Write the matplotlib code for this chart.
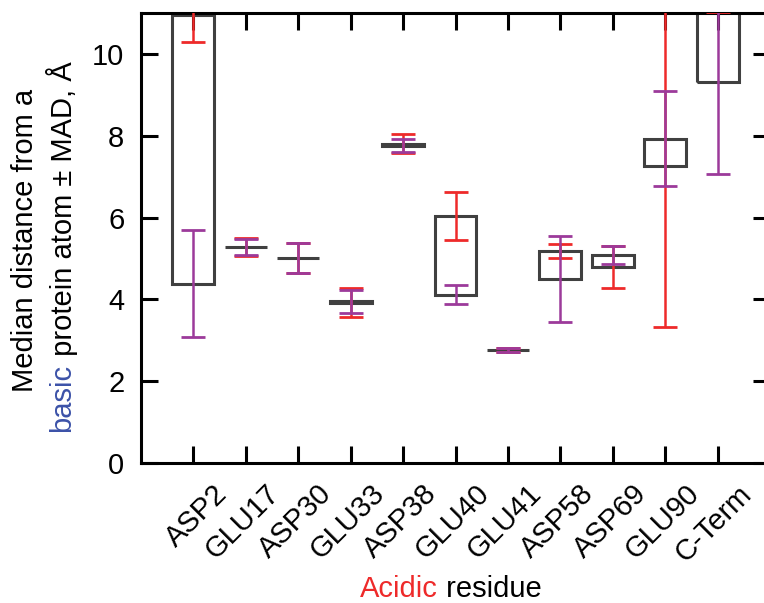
import matplotlib
matplotlib.use('Agg')
import matplotlib.pyplot as plt
import matplotlib.transforms as mtransforms
import numpy as np

plt.rcParams['font.family'] = ['Liberation Sans', 'DejaVu Sans']

residues = ['ASP2', 'GLU17', 'ASP30', 'GLU33', 'ASP38', 'GLU40',
            'GLU41', 'ASP58', 'ASP69', 'GLU90', 'C-Term']
# acidic-side medians / MAD (red) and basic-side medians / MAD (purple)
red_med = [10.94, 5.28, 5.01, 3.92, 7.80, 6.04, 2.76, 5.18, 4.79, 7.27, 11.5]
red_mad = [0.66, 0.21, 0.37, 0.36, 0.23, 0.59, 0.04, 0.18, 0.51, 3.94, 0.48]
pur_med = [4.38, 5.28, 5.01, 3.95, 7.75, 4.11, 2.76, 4.50, 5.08, 7.93, 9.32]
pur_mad = [1.31, 0.19, 0.37, 0.28, 0.16, 0.23, 0.04, 1.05, 0.22, 1.17, 2.25]
yticks = [0, 2, 4, 6, 8, 10]

RED = '#EE2A2A'
PURPLE = '#9C3A9A'
BLUE = '#3C52A8'
BOX = '#404040'

x = np.arange(len(residues))
lo = np.minimum(red_med, pur_med)
hi = np.maximum(red_med, pur_med)

fig = plt.figure(figsize=(7.64, 6.03), dpi=100)
ax = fig.add_axes([141 / 764, 1 - 463 / 603, 629 / 764, 450 / 603])

ax.bar(x, hi - lo, bottom=lo, width=0.8, fill=False, edgecolor=BOX,
       linewidth=2.2, zorder=2)
ax.errorbar(x, red_med, yerr=red_mad, fmt='none', ecolor=RED,
            elinewidth=1.8, capsize=8.5, capthick=2, zorder=3)
ax.errorbar(x, pur_med, yerr=pur_mad, fmt='none', ecolor=PURPLE,
            elinewidth=1.8, capsize=8.5, capthick=2, zorder=4)

ax.set_xlim(-1, 11)
ax.set_ylim(0, 11)
ax.set_xticks(x)
ax.set_xticklabels(residues, rotation=45, ha='right', rotation_mode='anchor')
ax.set_yticks(yticks)
ax.tick_params(direction='in', length=12, width=2.2, labelsize=21,
               top=True, right=True)
ax.tick_params(axis='y', pad=12)
ax.tick_params(axis='x', pad=12)
for s in ax.spines.values():
    s.set_linewidth(2.2)

# nudge rotated tick labels to the right like the original
shift = mtransforms.ScaledTranslation(14 / 72, 0, fig.dpi_scale_trans)
for lab in ax.get_xticklabels():
    lab.set_transform(lab.get_transform() + shift)

# y label: two lines, "basic" in blue
fs = 21
fig.text(25 / 764, 1 - 240 / 603, 'Median distance from a', rotation=90,
         ha='center', va='center', fontsize=fs)
t1 = fig.text(62 / 764, 1 - 432 / 603, 'basic', rotation=90, color=BLUE,
              ha='center', va='bottom', fontsize=fs)
ax.annotate(' protein atom \u00b1 MAD, \u00c5', xycoords=t1, xy=(0.5, 1),
            rotation=90, ha='center', va='bottom', fontsize=fs,
            annotation_clip=False)

# x label: "Acidic" in red
t2 = fig.text(360 / 764, 1 - 597 / 603, 'Acidic', color=RED,
              ha='left', va='baseline', fontsize=fs)
ax.annotate(' residue', xycoords=t2, xy=(1, 0), ha='left', va='bottom',
            fontsize=fs, annotation_clip=False)

fig.savefig('out.png', dpi=100)
